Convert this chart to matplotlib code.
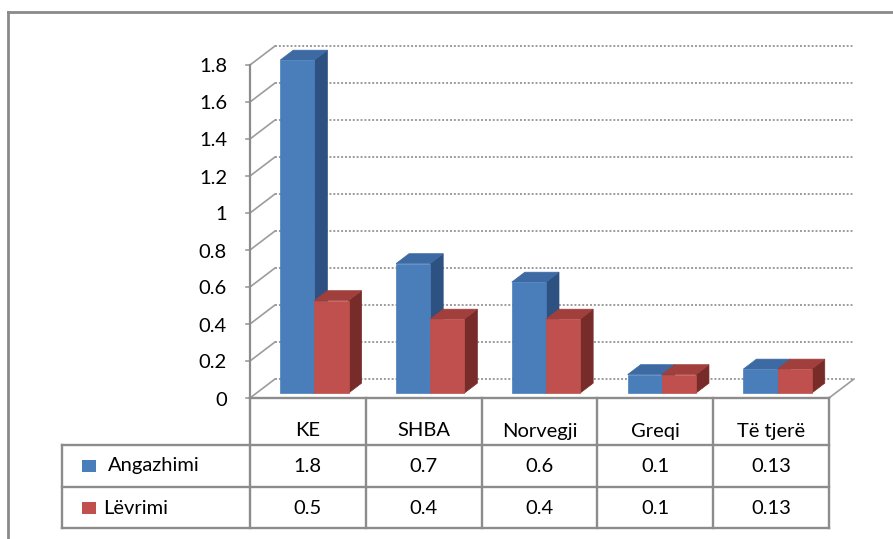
import matplotlib
matplotlib.use("Agg")
from matplotlib import pyplot as plt
from matplotlib.patches import Polygon, Rectangle

plt.rcParams['font.family'] = ['Lato', 'DejaVu Sans']

# data
categories = ["KE", "SHBA", "Norvegji", "Greqi", "Të tjerë"]
series_names = ["Angazhimi", "Lëvrimi"]
angazhimi = [1.8, 0.7, 0.6, 0.1, 0.13]
levrimi = [0.5, 0.4, 0.4, 0.1, 0.13]
y_ticks = [0, 0.2, 0.4, 0.6, 0.8, 1, 1.2, 1.4, 1.6, 1.8]
y_labels = ["0", "0.2", "0.4", "0.6", "0.8", "1", "1.2", "1.4", "1.6", "1.8"]

# colours: front, top, side
blue = ("#4a7ebb", "#3d6aa3", "#2d5180")
red = ("#c0504d", "#a03f3c", "#772c2a")

W, H = 893, 539
FS = 14.5
fig = plt.figure(figsize=(W / 100, H / 100), dpi=100)
ax = fig.add_axes([0, 0, 1, 1])

# pixel layout of the plot area (front plane)
X0, UX = 250, 115.8      # left edge px, px per category
Y0, UY = 398, 185.0      # zero line px, px per unit
DX, DY = 25 / UX, 19 / UY  # depth offset in data units


def px2x(p):
    return (p - X0) / UX - 0.5


def py2y(p):
    return (Y0 - p) / UY


ax.set_xlim(px2x(0), px2x(W))
ax.set_ylim(py2y(H), py2y(0))
ax.axis("off")

n = len(categories)
xl, xr = -0.5, n - 0.5
grid_c = "#9c9c9c"
line_c = "#8c8c8c"


def proj(x, v, z):
    return (x + DX * z, v + DY * z)


# back wall gridlines + left wall diagonals
for v in y_ticks:
    ax.plot([xl + DX, xr + DX], [v + DY, v + DY], color=grid_c, lw=1.4,
            ls=(0, (1, 1)), zorder=1)
    ax.plot([xl, xl + DX], [v, v + DY], color=grid_c, lw=1.2, zorder=1)
    ax.plot([xl - 4 / UX, xl], [v, v], color=grid_c, lw=1.2, zorder=1)
ax.plot([xr, xr + DX], [0, DY], color=grid_c, lw=1.2, zorder=1)

# y axis
ax.plot([xl, xl], [0, y_ticks[-1]], color=line_c, lw=1.6, zorder=2)
for v, lab in zip(y_ticks, y_labels):
    ax.text(px2x(227), v - 2 / UY, lab, ha="right", va="center", fontsize=FS)

# bars
bw = 0.295
gap = (1 - 2 * bw) / 2
z0, z1 = 0.26, 0.78
for i in range(n):
    for s, (vals, col) in enumerate([(angazhimi, blue), (levrimi, red)]):
        v = vals[i]
        a = i - 0.5 + gap + s * bw
        b = a + bw
        front = [proj(a, 0, z0), proj(b, 0, z0), proj(b, v, z0), proj(a, v, z0)]
        top = [proj(a, v, z0), proj(b, v, z0), proj(b, v, z1), proj(a, v, z1)]
        side = [proj(b, 0, z0), proj(b, 0, z1), proj(b, v, z1), proj(b, v, z0)]
        for pts, c in [(side, col[2]), (top, col[1]), (front, col[0])]:
            ax.add_patch(Polygon(pts, closed=True, facecolor=c, edgecolor=c,
                                 lw=0.5, zorder=3))

# data table
row_top = [py2y(398), py2y(445), py2y(487), py2y(528)]
tcol = "#8c8c8c"
tlw = 1.7
ax.plot([xl, xr], [row_top[0]] * 2, color=tcol, lw=tlw, zorder=4)
for yy in row_top[1:]:
    ax.plot([px2x(62), xr], [yy, yy], color=tcol, lw=tlw, zorder=4)
ax.plot([px2x(62)] * 2, [row_top[1], row_top[3]], color=tcol, lw=tlw, zorder=4)
for k in range(n + 1):
    ax.plot([k - 0.5] * 2, [row_top[0], row_top[3]], color=tcol, lw=tlw, zorder=4)

for i, cat in enumerate(categories):
    ax.text(i, py2y(431), cat, ha="center", va="center", fontsize=FS)
    ax.text(i, py2y(466), f"{angazhimi[i]:g}", ha="center", va="center", fontsize=FS)
    ax.text(i, py2y(508), f"{levrimi[i]:g}", ha="center", va="center", fontsize=FS)

# legend keys in table
for r, (name, col, tx) in enumerate([(series_names[0], blue, 108),
                                     (series_names[1], red, 103)]):
    yc = 466 + r * 42
    ax.add_patch(Rectangle((px2x(82), py2y(yc + 6)), 14 / UX, 12 / UY,
                           facecolor=col[0], edgecolor="none", zorder=4))
    ax.text(px2x(tx), py2y(yc), name, ha="left", va="center", fontsize=FS)

# outer frame
ax.plot([px2x(8), px2x(W)], [py2y(12)] * 2, color="#8a8a8a", lw=2, zorder=5)
ax.plot([px2x(8)] * 2, [py2y(12), py2y(H)], color="#8a8a8a", lw=2, zorder=5)

fig.savefig("out.png", dpi=100)
